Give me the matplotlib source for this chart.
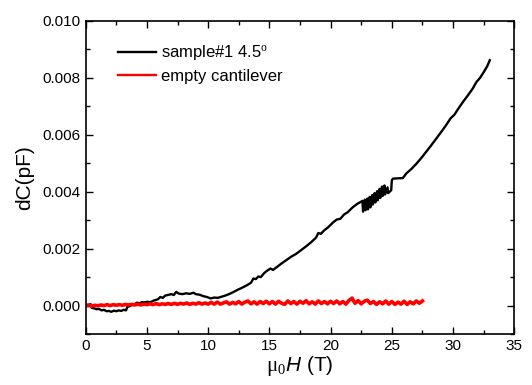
import numpy as np
import matplotlib
matplotlib.use("Agg")
import matplotlib.pyplot as plt
from matplotlib.ticker import MultipleLocator

plt.rcParams['font.family'] = ['Liberation Sans', 'DejaVu Sans']
plt.rcParams['mathtext.fontset'] = 'custom'
plt.rcParams['mathtext.rm'] = 'Liberation Serif'
plt.rcParams['mathtext.it'] = 'Liberation Sans:italic'

# sample#1 at 4.5 deg: field (T) and dC (units of 1e-3 pF)
sample_field = [
    0.0, 0.2, 0.4, 0.5, 0.7, 0.9, 1.1, 1.3, 1.5, 1.7, 1.9, 2.1, 2.3, 2.5, 2.7, 2.9,
    3.1, 3.3, 3.4, 3.6, 3.8, 4.0, 4.2, 4.4, 4.6, 4.8, 5.0, 5.3, 5.6, 5.9, 6.1, 6.3,
    6.5, 6.8, 7.0, 7.2, 7.4, 7.6, 7.9, 8.2, 8.5, 8.8, 9.0, 9.3, 9.6, 9.9, 10.2, 10.5,
    10.8, 11.1, 11.4, 11.7, 12.0, 12.4, 12.8, 13.2, 13.5, 13.7, 13.9, 14.1, 14.3, 14.6,
    14.9, 15.1, 15.3, 15.6, 16.0, 16.4, 16.8, 17.2, 17.6, 18.0, 18.4, 18.8, 19.0, 19.2,
    19.5, 19.8, 20.2, 20.5, 20.8, 21.1, 21.4, 21.8, 22.2, 22.5,
    22.6, 22.65, 22.8, 22.85, 23.0, 23.05, 23.2, 23.25, 23.4, 23.45, 23.6, 23.65,
    23.8, 23.85, 24.0, 24.05, 24.2, 24.25, 24.4, 24.45, 24.65, 24.7, 24.95, 25.0, 25.1,
    25.9, 26.2, 26.6, 27.0, 27.4, 27.8, 28.2, 28.6, 29.0, 29.4, 29.8, 30.1, 30.4,
    30.8, 31.2, 31.6, 31.9, 32.2, 32.5, 32.8, 33.0,
]
sample_dc = [
    0.00, -0.02, 0.05, -0.08, -0.10, -0.13, -0.12, -0.17, -0.15, -0.20, -0.19, -0.22,
    -0.18, -0.20, -0.17, -0.19, -0.15, -0.17, -0.05, -0.02, 0.02, 0.05, 0.10, 0.08,
    0.12, 0.11, 0.13, 0.12, 0.18, 0.22, 0.30, 0.27, 0.35, 0.38, 0.40, 0.37, 0.48, 0.42,
    0.40, 0.43, 0.41, 0.45, 0.40, 0.38, 0.33, 0.30, 0.25, 0.28, 0.27, 0.31, 0.35, 0.40,
    0.46, 0.55, 0.63, 0.72, 0.80, 0.95, 0.93, 1.02, 1.00, 1.15, 1.25, 1.30, 1.25, 1.35,
    1.48, 1.60, 1.72, 1.82, 1.95, 2.08, 2.22, 2.38, 2.55, 2.52, 2.65, 2.75, 2.92, 3.02,
    3.05, 3.20, 3.28, 3.45, 3.58, 3.65,
    3.68, 3.30, 3.72, 3.35, 3.76, 3.38, 3.82, 3.45, 3.88, 3.55, 3.95, 3.62,
    4.02, 3.70, 4.10, 3.78, 4.18, 3.85, 4.22, 3.90, 4.15, 3.95, 4.05, 4.40, 4.46,
    4.48, 4.65, 4.80, 4.98, 5.18, 5.40, 5.62, 5.85, 6.08, 6.32, 6.58, 6.70, 6.90,
    7.15, 7.38, 7.62, 7.85, 8.00, 8.20, 8.42, 8.62,
]

# empty cantilever: field (T) and dC (units of 1e-4 pF)
empty_field = [
    0.0, 0.25, 0.5, 0.75, 1.0, 1.25, 1.5, 1.75, 2.0, 2.25, 2.5, 2.75, 3.0, 3.25, 3.5,
    3.75, 4.0, 4.25, 4.5, 4.75, 5.0, 5.25, 5.5, 5.75, 6.0, 6.25, 6.5, 6.75, 7.0, 7.25,
    7.5, 7.75, 8.0, 8.25, 8.5, 8.75, 9.0, 9.25, 9.5, 9.75, 10.0, 10.25, 10.5, 10.75,
    11.0, 11.25, 11.5, 11.75, 12.0, 12.25, 12.5, 12.75, 13.0, 13.25, 13.5, 13.75, 14.0,
    14.25, 14.5, 14.75, 15.0, 15.25, 15.5, 15.75, 16.0, 16.25, 16.5, 16.75, 17.0, 17.25,
    17.5, 17.75, 18.0, 18.25, 18.5, 18.75, 19.0, 19.25, 19.5, 19.75, 20.0, 20.25, 20.5,
    20.75, 21.0, 21.25, 21.5, 21.75, 22.0, 22.25, 22.5, 22.75, 23.0, 23.25, 23.5, 23.75,
    24.0, 24.25, 24.5, 24.75, 25.0, 25.25, 25.5, 25.75, 26.0, 26.25, 26.5, 26.75, 27.0,
    27.25, 27.5,
]
empty_dc = [
    0.0, 0.2, -0.2, 0.1, -0.1, 0.2, 0.0, 0.3, 0.0, 0.3, 0.1, 0.3, 0.1, 0.4, 0.2, 0.4,
    0.2, 0.5, 0.2, 0.5, 0.3,
    0.6, 0.3, 0.7, 0.3, 0.6, 0.4, 0.7, 0.4, 0.8, 0.4, 0.8, 0.5, 0.9, 0.4, 0.8, 0.5,
    1.0, 0.5, 0.9, 0.5,
    1.1, 0.5, 1.2, 0.5, 0.9, 1.3, 0.5, 1.1, 0.6, 1.4, 0.5, 1.2, 1.6, 0.6, 1.3, 0.5,
    1.4, 0.7, 1.5, 0.6,
    1.4, 0.5, 1.5, 0.8, 0.4, 1.6, 0.7, 1.4, 0.5, 1.5, 0.8, 1.7, 0.6, 1.3, 0.5, 1.6,
    0.7, 1.4, 0.6, 1.5,
    0.7, 1.6, 0.6, 1.4, 0.5, 1.8, 2.6, 0.8, 1.7, 0.6, 1.5, 1.9, 0.7, 1.4, 0.4, 1.3,
    0.6, 1.6, 0.5, 1.4,
    0.4, 1.2, 0.5, 1.5, 0.4, 1.3, 0.6, 1.6, 0.8, 1.6,
]

fig = plt.figure(figsize=(5.32, 3.85), dpi=100)
ax = fig.add_axes([0.161, 0.1325, 0.8057, 0.813])

ax.plot(sample_field, np.array(sample_dc) * 1e-3, color='black', lw=1.7,
        label=r'sample#1 4.5$^\mathrm{o}$')
ax.plot(empty_field, np.array(empty_dc) * 1e-4, color='red', lw=2.6,
        label='empty cantilever')

ax.set_xlim(0, 35)
ax.set_ylim(-0.001, 0.010)
ax.xaxis.set_major_locator(MultipleLocator(5))
ax.xaxis.set_minor_locator(MultipleLocator(2.5))
ax.yaxis.set_major_locator(MultipleLocator(0.002))
ax.yaxis.set_minor_locator(MultipleLocator(0.001))
ax.yaxis.set_major_formatter(plt.FuncFormatter(lambda v, p: f'{v:.3f}'))
ax.tick_params(which='both', direction='in', top=True, right=True, labelsize=11,
               width=1.0)
ax.tick_params(which='major', length=5)
ax.tick_params(which='minor', length=3)
for s in ax.spines.values():
    s.set_linewidth(1.2)

ax.set_xlabel(r'$\mathrm{\mu}_0\mathit{H}$ (T)', fontsize=15, labelpad=1)
ax.set_ylabel('dC(pF)', fontsize=15, labelpad=6)

leg = ax.legend(loc='upper left', frameon=False, fontsize=12, handlelength=2.3,
                handletextpad=0.3, labelspacing=0.35, bbox_to_anchor=(0.04, 0.975))
for line in leg.get_lines():
    line.set_linewidth(1.7)

fig.savefig('out.png', dpi=100)
